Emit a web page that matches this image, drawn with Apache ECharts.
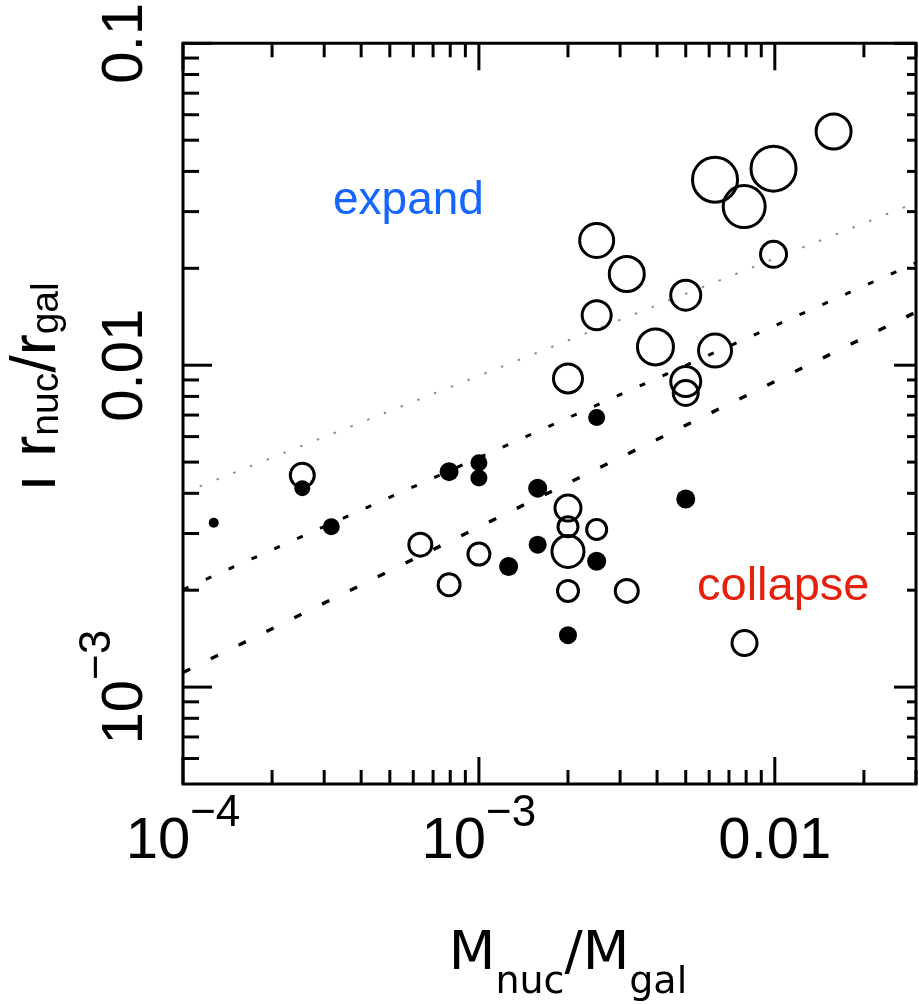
<!DOCTYPE html>
<html>
<head>
<meta charset="utf-8">
<script src="https://cdn.jsdelivr.net/npm/echarts@6/dist/echarts.min.js"></script>
<style>
  html, body { margin: 0; padding: 0; background: #fff; }
  #chart { width: 919px; height: 1004px; }
</style>
</head>
<body>
<div id="chart"></div>
<script>
// Axis ranges (both axes logarithmic)
const X_MIN = 1e-4, X_MAX = 0.03;
const Y_MIN = 5e-4, Y_MAX = 0.1;

// Tick positions
const xMajorTicks = [1e-4, 1e-3, 1e-2];
const xMinorTicks = [2e-4, 3e-4, 4e-4, 5e-4, 6e-4, 7e-4, 8e-4, 9e-4,
                     2e-3, 3e-3, 4e-3, 5e-3, 6e-3, 7e-3, 8e-3, 9e-3,
                     2e-2, 3e-2];
const yMajorTicks = [1e-3, 1e-2, 1e-1];
const yMinorTicks = [6e-4, 7e-4, 8e-4, 9e-4,
                     2e-3, 3e-3, 4e-3, 5e-3, 6e-3, 7e-3, 8e-3, 9e-3,
                     2e-2, 3e-2, 4e-2, 5e-2, 6e-2, 7e-2, 8e-2, 9e-2];

// Tick labels
const xLabelValues = [1e-4, 1e-3, 1e-2];
const xLabelTexts = ['10{sup|\u22124}', '10{sup|\u22123}', '0.01'];
const yLabelValues = [1e-3, 1e-2, 1e-1];
const yLabelTexts = ['10{sup|\u22123}', '0.01', '0.1'];

// Open circles: M_nuc/M_gal, r_nuc/r_gal, relative bubble weight
const openX = [0.0158, 0.00628, 0.0099, 0.00788, 0.0099, 0.0025, 0.00316, 0.005, 0.0025,
               0.00395, 0.00628, 0.002, 0.005, 0.005, 2.53e-4, 0.002, 0.002, 0.002, 0.0025,
               6.34e-4, 0.001, 7.93e-4, 0.002, 0.00316, 0.0079];
const openY = [0.0532, 0.0377, 0.0408, 0.0311, 0.0221, 0.0244, 0.0192, 0.0165, 0.0143,
               0.0114, 0.0111, 0.0091, 0.0089, 0.0082, 0.00455, 0.0036, 0.00315, 0.00264, 0.00309,
               0.00277, 0.00259, 0.00208, 0.00199, 0.00199, 0.00137];
const openW = [1.9, 2.4, 2.4, 2.25, 1.45, 1.85, 1.9, 1.65, 1.6,
               1.95, 1.8, 1.6, 1.65, 1.4, 1.35, 1.45, 1.15, 1.75, 1.15,
               1.3, 1.25, 1.25, 1.2, 1.3, 1.4];

// Filled dots: M_nuc/M_gal, r_nuc/r_gal, relative weight
const fillX = [1.27e-4, 2.53e-4, 3.17e-4, 7.93e-4, 0.001, 0.001, 0.00158, 0.0025,
               0.00158, 0.00126, 0.0025, 0.005, 0.002];
const fillY = [0.00324, 0.00415, 0.00315, 0.00467, 0.00498, 0.00446, 0.00415, 0.00688,
               0.00277, 0.00237, 0.00246, 0.00384, 0.00145];
const fillW = [0.5, 0.8, 0.85, 0.95, 0.85, 0.85, 0.95, 0.85,
               0.9, 0.95, 0.95, 0.95, 0.9];

// Reference relations (straight in log-log), sampled at the axis ends
const guideX = [1e-4, 0.03];
const guideUpper = [0.00401, 0.0320];
const guideMiddle = [0.00201, 0.0208];
const guideLower = [0.00111, 0.01462];

const zip3 = (a, b, c) => a.map((v, i) => [v, b[i], c[i]]);
const zip2 = (a, b) => a.map((v, i) => [v, b[i]]);

function labelFormatter(values, texts) {
  return function (v) {
    for (let i = 0; i < values.length; i++) {
      if (Math.abs(Math.log10(v) - Math.log10(values[i])) < 1e-6) return texts[i];
    }
    return '';
  };
}

// Inward ticks mirrored on both sides of the frame
function tickSeries(values, isX, len, farLen) {
  return {
    type: 'custom',
    silent: true,
    z: 5,
    data: values.map(v => isX ? [v, Y_MIN] : [X_MIN, v]),
    renderItem: function (params, api) {
      const st = { stroke: '#000', lineWidth: 3 };
      if (isX) {
        const v = api.value(0);
        const b = api.coord([v, Y_MIN]);
        const t = api.coord([v, Y_MAX]);
        return { type: 'group', children: [
          { type: 'line', shape: { x1: b[0], y1: b[1], x2: b[0], y2: b[1] - len }, style: st },
          { type: 'line', shape: { x1: t[0], y1: t[1], x2: t[0], y2: t[1] + len }, style: st }
        ] };
      }
      const v = api.value(1);
      const l = api.coord([X_MIN, v]);
      const r = api.coord([X_MAX, v]);
      return { type: 'group', children: [
        { type: 'line', shape: { x1: l[0], y1: l[1], x2: l[0] + len, y2: l[1] }, style: st },
        { type: 'line', shape: { x1: r[0], y1: r[1], x2: r[0] - farLen, y2: r[1] }, style: st }
      ] };
    }
  };
}

const labelRich = {
  sup: { fontFamily: 'Liberation Sans', fontSize: 44, lineHeight: 64, padding: [0, 0, 56, 0] }
};

const chart = echarts.init(document.getElementById('chart'), null, { renderer: 'canvas' });

chart.setOption({
  animation: false,
  backgroundColor: '#fff',
  grid: {
    left: 183, top: 43, width: 736, height: 741,
    show: true, borderColor: '#000', borderWidth: 3, backgroundColor: 'transparent'
  },
  xAxis: {
    type: 'log', logBase: 10, min: X_MIN, max: X_MAX,
    axisLine: { show: false }, axisTick: { show: false },
    splitLine: { show: false }, minorTick: { show: false },
    axisLabel: {
      margin: 26, showMinLabel: true, showMaxLabel: true,
      fontFamily: 'Liberation Sans', fontSize: 58, lineHeight: 64, color: '#000',
      rich: labelRich,
      formatter: labelFormatter(xLabelValues, xLabelTexts)
    }
  },
  yAxis: {
    type: 'log', logBase: 10, min: Y_MIN, max: Y_MAX,
    axisLine: { show: false }, axisTick: { show: false },
    splitLine: { show: false }, minorTick: { show: false },
    axisLabel: {
      rotate: 90, margin: 25, showMinLabel: true, showMaxLabel: true,
      fontFamily: 'Liberation Sans', fontSize: 58, lineHeight: 64, color: '#000',
      rich: labelRich,
      formatter: labelFormatter(yLabelValues, yLabelTexts)
    }
  },
  graphic: [
    {
      type: 'text', x: 38, y: 387, rotation: Math.PI / 2, z: 10,
      style: {
        text: '{m|\u0131 r}{s|nuc}{m|/r}{s|gal}',
        align: 'center', verticalAlign: 'middle', fill: '#000',
        rich: {
          m: { font: '63px "Liberation Sans"', lineHeight: 76, fill: '#000' },
          s: { font: '39px "Liberation Sans"', lineHeight: 76, padding: [18, 0, 0, 0], fill: '#000' }
        }
      }
    },
    {
      type: 'text', x: 568, y: 955, z: 10,
      style: {
        text: '{m|M}{s|nuc}{m|/M}{s|gal}',
        align: 'center', verticalAlign: 'middle', fill: '#000',
        rich: {
          m: { font: '54px "DejaVu Sans"', lineHeight: 64, fill: '#000' },
          s: { font: '38px "DejaVu Sans"', lineHeight: 64, padding: [56, 0, 0, 0], fill: '#000' }
        }
      }
    },
    {
      type: 'text', x: 333, y: 201, z: 10,
      style: { text: 'expand', font: '46px "Liberation Sans"', fill: '#1565ff', align: 'left', verticalAlign: 'middle' }
    },
    {
      type: 'text', x: 697, y: 587, z: 10,
      style: { text: 'collapse', font: '47px "Liberation Sans"', fill: '#e5200c', align: 'left', verticalAlign: 'middle' }
    }
  ],
  series: [
    {
      type: 'line', silent: true, symbol: 'none', z: 2,
      data: zip2(guideX, guideUpper),
      lineStyle: { color: '#8c8c8c', width: 2, type: [2.5, 15.5] }
    },
    {
      type: 'line', silent: true, symbol: 'none', z: 2,
      data: zip2(guideX, guideMiddle),
      lineStyle: { color: '#000', width: 3, type: [6, 19] }
    },
    {
      type: 'line', silent: true, symbol: 'none', z: 2,
      data: zip2(guideX, guideLower),
      lineStyle: { color: '#000', width: 3.4, type: [8, 23] }
    },
    {
      type: 'scatter', silent: true, z: 3,
      data: zip3(openX, openY, openW),
      symbol: 'circle',
      symbolSize: d => d[2] * 20 - 3,
      itemStyle: { color: 'rgba(0,0,0,0)', borderColor: '#000', borderWidth: 3, opacity: 1 }
    },
    {
      type: 'scatter', silent: true, z: 4,
      data: zip3(fillX, fillY, fillW),
      symbol: 'circle',
      symbolSize: d => d[2] * 20,
      itemStyle: { color: '#000', opacity: 1 }
    },
    tickSeries(xMajorTicks, true, 27, 27),
    tickSeries(xMinorTicks, true, 14, 14),
    tickSeries(yMajorTicks, false, 29, 22),
    tickSeries(yMinorTicks, false, 16, 9)
  ]
});
</script>
</body>
</html>
